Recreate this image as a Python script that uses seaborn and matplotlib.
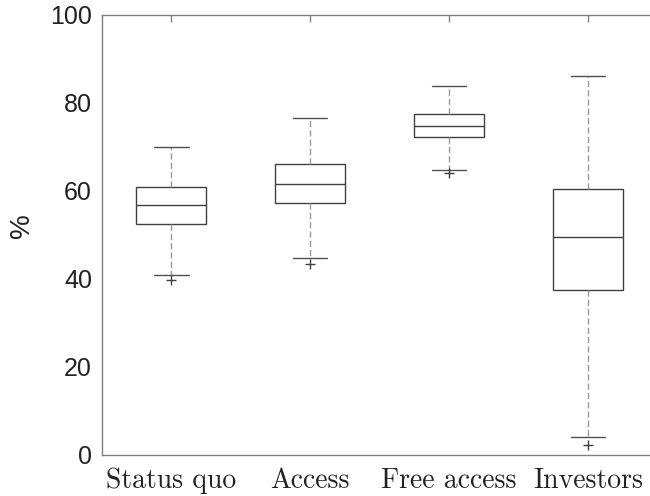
import matplotlib
matplotlib.use('Agg')
import matplotlib.pyplot as plt
import pandas as pd
import seaborn as sns

# box-plot summaries (in %)
groups = ['Status quo', 'Access', 'Free access', 'Investors']
whisker_low = [40.8, 44.7, 64.7, 4.1]
q1 = [52.5, 57.2, 72.3, 37.5]
median = [56.7, 61.5, 74.7, 49.4]
q3 = [60.8, 66.0, 77.4, 60.4]
whisker_high = [70.0, 76.5, 83.9, 86.1]
outliers = [39.7, 43.4, 64.0, 2.1]

# a minimal sample per group whose quartiles/whiskers/fliers equal the values above
rows = []
for i, g in enumerate(groups):
    sample = [outliers[i], whisker_low[i], q1[i], q1[i], median[i],
              q3[i], q3[i], whisker_high[i], whisker_high[i]]
    for v in sample:
        rows.append({'group': g, 'value': v})
df = pd.DataFrame(rows)

sns.set_style('white')
fig = plt.figure(figsize=(6.5, 4.96), dpi=100)
ax = fig.add_axes([0.1565, 0.0833, 0.855, 0.8865])

sns.boxplot(data=df, x='group', y='value', order=groups, ax=ax,
            width=0.5, color='white', linecolor='#404040', linewidth=1,
            whis=1.5,
            whiskerprops=dict(color='#9a9a9a', linestyle=(0, (4.5, 2.2))),
            capprops=dict(color='#505050', linestyle='-'),
            medianprops=dict(color='#404040'),
            flierprops=dict(marker='+', markersize=7, markeredgecolor='#404040',
                            markeredgewidth=1))

ax.set_xlim(-0.5, 3.5)
ax.set_ylim(0, 100)
ax.set_yticks([0, 20, 40, 60, 80, 100])
ax.set_xlabel('')
ax.set_ylabel('%', fontsize=20, family='Liberation Sans', color='#222222')
ax.yaxis.set_label_coords(-0.12, 0.52)

for s in ax.spines.values():
    s.set_visible(True)
    s.set_color('#808080')
    s.set_linewidth(1)

ax.tick_params(axis='both', direction='in', length=5, width=1, color='#808080',
               top=True, right=True)
ax.tick_params(axis='y', labelsize=18, pad=7)
ax.tick_params(axis='x', pad=9)
for lab in ax.get_yticklabels():
    lab.set_family('Liberation Sans')
    lab.set_color('#222222')
for lab in ax.get_xticklabels():
    lab.set_family('cmr10')
    lab.set_fontsize(20)
    lab.set_color('#222222')

fig.savefig('out.png', dpi=100)
